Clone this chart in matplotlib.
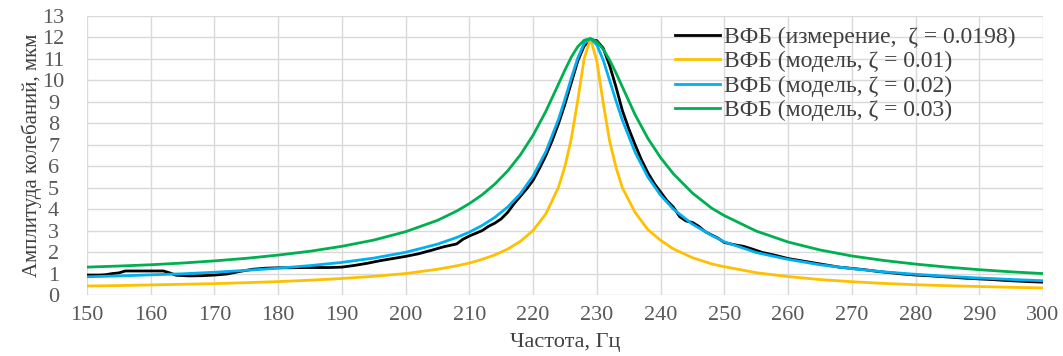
import matplotlib
matplotlib.use("Agg")
import matplotlib.pyplot as plt

plt.rcParams['font.family'] = ['Liberation Serif', 'DejaVu Serif']

# Model curves (common frequency grid)
freq_model = [150, 155, 160, 165, 170, 175, 180, 185, 190, 195,
              200, 205, 208, 210, 212, 214, 216, 218, 220, 222,
              224, 225, 226, 227, 228, 229, 230, 231, 232, 233,
              234, 236, 238, 240, 242, 245, 248, 250, 255, 260,
              265, 270, 275, 280, 285, 290, 295, 300]
amp_z001 = [0.42, 0.44, 0.47, 0.50, 0.53, 0.575, 0.625, 0.69, 0.77, 0.87,
            1.0, 1.2, 1.36, 1.49, 1.66, 1.87, 2.14, 2.5, 3.01, 3.78,
            5.04, 6.0, 7.3, 9.06, 11.0, 11.95, 10.9, 8.95, 7.18, 5.95,
            5.0, 3.85, 3.05, 2.55, 2.15, 1.74, 1.45, 1.32, 1.04, 0.86,
            0.72, 0.62, 0.54, 0.48, 0.435, 0.395, 0.36, 0.33]
amp_z002 = [0.85, 0.89, 0.94, 0.99, 1.06, 1.15, 1.25, 1.37, 1.52, 1.72,
            1.99, 2.37, 2.68, 2.93, 3.24, 3.62, 4.1, 4.72, 5.55, 6.68,
            8.2, 9.13, 10.11, 11.04, 11.72, 11.95, 11.65, 10.95, 10.0, 9.05,
            8.15, 6.65, 5.5, 4.65, 4.0, 3.3, 2.78, 2.48, 1.98, 1.66,
            1.41, 1.23, 1.08, 0.965, 0.87, 0.79, 0.725, 0.665]
amp_z003 = [1.3, 1.35, 1.41, 1.49, 1.59, 1.71, 1.86, 2.04, 2.27, 2.56,
            2.95, 3.48, 3.91, 4.26, 4.67, 5.17, 5.78, 6.53, 7.45, 8.56,
            9.84, 10.49, 11.09, 11.57, 11.87, 11.95, 11.8, 11.45, 10.95, 10.35,
            9.7, 8.4, 7.3, 6.4, 5.65, 4.75, 4.05, 3.7, 2.98, 2.47,
            2.1, 1.82, 1.61, 1.44, 1.30, 1.18, 1.08, 1.0]

# Measured curve
freq_meas = [150, 152, 153, 154, 155, 156, 158, 160, 162, 163,
             164, 166, 168, 170, 172, 174, 176, 178, 180, 182,
             184, 186, 188, 190, 192, 194, 196, 198, 200, 202,
             204, 206, 208, 209, 210, 212, 213, 214, 215, 216,
             217, 218, 219, 220, 221, 222, 223, 224, 225, 226,
             227, 228, 229, 230, 231, 232, 233, 234, 235, 236,
             237, 238, 239, 240, 241, 242, 243, 244, 245, 246,
             247, 248, 249, 250, 251, 252, 253, 254, 255, 256,
             258, 260, 262, 264, 266, 268, 270, 272, 274, 276,
             278, 280, 282, 284, 286, 288, 290, 292, 294, 296,
             298, 300]
amp_meas = [0.93, 0.93, 0.95, 1.0, 1.03, 1.12, 1.12, 1.12, 1.12, 1.03,
            0.92, 0.89, 0.9, 0.93, 0.98, 1.1, 1.2, 1.25, 1.27, 1.27,
            1.28, 1.28, 1.28, 1.3, 1.38, 1.48, 1.6, 1.7, 1.8, 1.92,
            2.08, 2.25, 2.38, 2.6, 2.75, 3.0, 3.2, 3.35, 3.55, 3.85,
            4.25, 4.6, 4.95, 5.35, 5.9, 6.5, 7.2, 8.0, 8.9, 9.9,
            10.9, 11.6, 11.9, 11.85, 11.5, 10.7, 9.7, 8.6, 7.75, 7.0,
            6.3, 5.7, 5.2, 4.8, 4.4, 4.1, 3.65, 3.45, 3.38, 3.2,
            2.95, 2.8, 2.65, 2.45, 2.38, 2.32, 2.27, 2.18, 2.08, 1.98,
            1.85, 1.7, 1.6, 1.5, 1.4, 1.3, 1.24, 1.18, 1.1, 1.04,
            0.98, 0.93, 0.9, 0.86, 0.82, 0.78, 0.75, 0.72, 0.68, 0.65,
            0.62, 0.6]

labels = ["ВФБ (измерение,  ζ = 0.0198)",
          "ВФБ (модель, ζ = 0.01)",
          "ВФБ (модель, ζ = 0.02)",
          "ВФБ (модель, ζ = 0.03)"]
colors = ["#000000", "#FFC000", "#00B0F0", "#00B050"]

x_ticks = list(range(150, 301, 10))
y_ticks = list(range(0, 14))

fig = plt.figure(figsize=(10.63, 3.56), dpi=100)
ax = fig.add_axes([0.0818, 0.1713, 0.8994, 0.7837])

lw = 2.0
ax.plot(freq_meas, amp_meas, color=colors[0], lw=lw, label=labels[0], zorder=3)
ax.plot(freq_model, amp_z001, color=colors[1], lw=lw, label=labels[1], zorder=3)
ax.plot(freq_model, amp_z002, color=colors[2], lw=lw, label=labels[2], zorder=3)
ax.plot(freq_model, amp_z003, color=colors[3], lw=lw, label=labels[3], zorder=3)

ax.set_xlim(150, 300)
ax.set_ylim(0, 13)
ax.set_xticks(x_ticks)
ax.set_yticks(y_ticks)
ax.grid(True, color="#d9d9d9", lw=1.0, zorder=0)
for s in ax.spines.values():
    s.set_visible(False)
ax.tick_params(axis='both', length=0, labelsize=16, colors="#595959")
ax.tick_params(axis='x', pad=8)
ax.tick_params(axis='y', pad=24)
for lab in ax.get_yticklabels():
    lab.set_horizontalalignment('center')

ax.set_xlabel("Частота, Гц", fontsize=16, color="#404040", labelpad=6)
ax.set_ylabel("Амплитуда колебаний, мкм", fontsize=15, color="#404040", labelpad=0)

leg = ax.legend(loc="upper left", bbox_to_anchor=(0.626, 0.952),
                bbox_transform=fig.transFigure, frameon=False,
                fontsize=17, handlelength=1.9, handletextpad=0.2,
                labelspacing=0.12, borderaxespad=0)
for t in leg.get_texts():
    t.set_color("#404040")

fig.savefig("out.png", dpi=100)
